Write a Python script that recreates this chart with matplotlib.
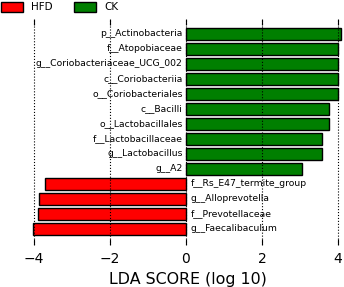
import matplotlib
matplotlib.use("Agg")
import matplotlib.pyplot as plt
from matplotlib.patches import Patch

# taxa from top to bottom, with LDA scores (negative = HFD)
taxa = [
    'p__Actinobacteria',
    'f__Atopobiaceae',
    'g__Coriobacteriaceae_UCG_002',
    'c__Coriobacteriia',
    'o__Coriobacteriales',
    'c__Bacilli',
    'o__Lactobacillales',
    'f__Lactobacillaceae',
    'g__Lactobacillus',
    'g__A2',
    'f__Rs_E47_termite_group',
    'g__Alloprevotella',
    'f__Prevotellaceae',
    'g__Faecalibaculum',
]
scores = [4.08, 3.99, 3.99, 3.99, 3.99, 3.77, 3.76, 3.57, 3.57, 3.05,
          -3.71, -3.87, -3.89, -4.03]

groups = ['HFD', 'CK']
group_colors = {'HFD': '#FF0000', 'CK': '#007F00'}
xticks = [-4, -2, 0, 2, 4]

fig = plt.figure(figsize=(3.44, 2.87), dpi=100)
ax = fig.add_axes([0.093, 0.146, 0.907, 0.788])

n = len(taxa)
ypos = list(range(n - 1, -1, -1))
colors = [group_colors['CK'] if s > 0 else group_colors['HFD'] for s in scores]

ax.barh(ypos, scores, height=0.8, color=colors, edgecolor='black', linewidth=1)

for y, name, s in zip(ypos, taxa, scores):
    if s > 0:
        ax.text(-0.08, y, name, ha='right', va='center', fontsize=6.7)
    else:
        ax.text(0.12, y, name, ha='left', va='center', fontsize=6.7)

ax.set_xlim(-4.05, 4.16)
ax.set_ylim(-1.1, 14.0)
ax.set_xticks(xticks)
ax.set_xticklabels(['\u2212' + str(abs(t)) if t < 0 else str(t) for t in xticks], fontsize=10)
ax.set_yticks([])
ax.tick_params(axis='x', direction='in', top=True, bottom=True, length=4, width=0.8, pad=5)
for sp in ax.spines.values():
    sp.set_visible(False)
ax.xaxis.grid(True, linestyle=':', color='black', linewidth=0.8)
ax.set_axisbelow(False)
ax.set_xlabel('LDA SCORE (log 10)', fontsize=11.4, labelpad=4)

handles = [Patch(facecolor=group_colors[g], edgecolor='black', label=g) for g in groups]
fig.legend(handles=handles, loc='upper left', bbox_to_anchor=(-0.025, 1.025), ncol=2,
           frameon=False, fontsize=7.5, handlelength=2.1, handleheight=1.0,
           columnspacing=2.1, handletextpad=0.8)

fig.savefig('out.png', dpi=100)
